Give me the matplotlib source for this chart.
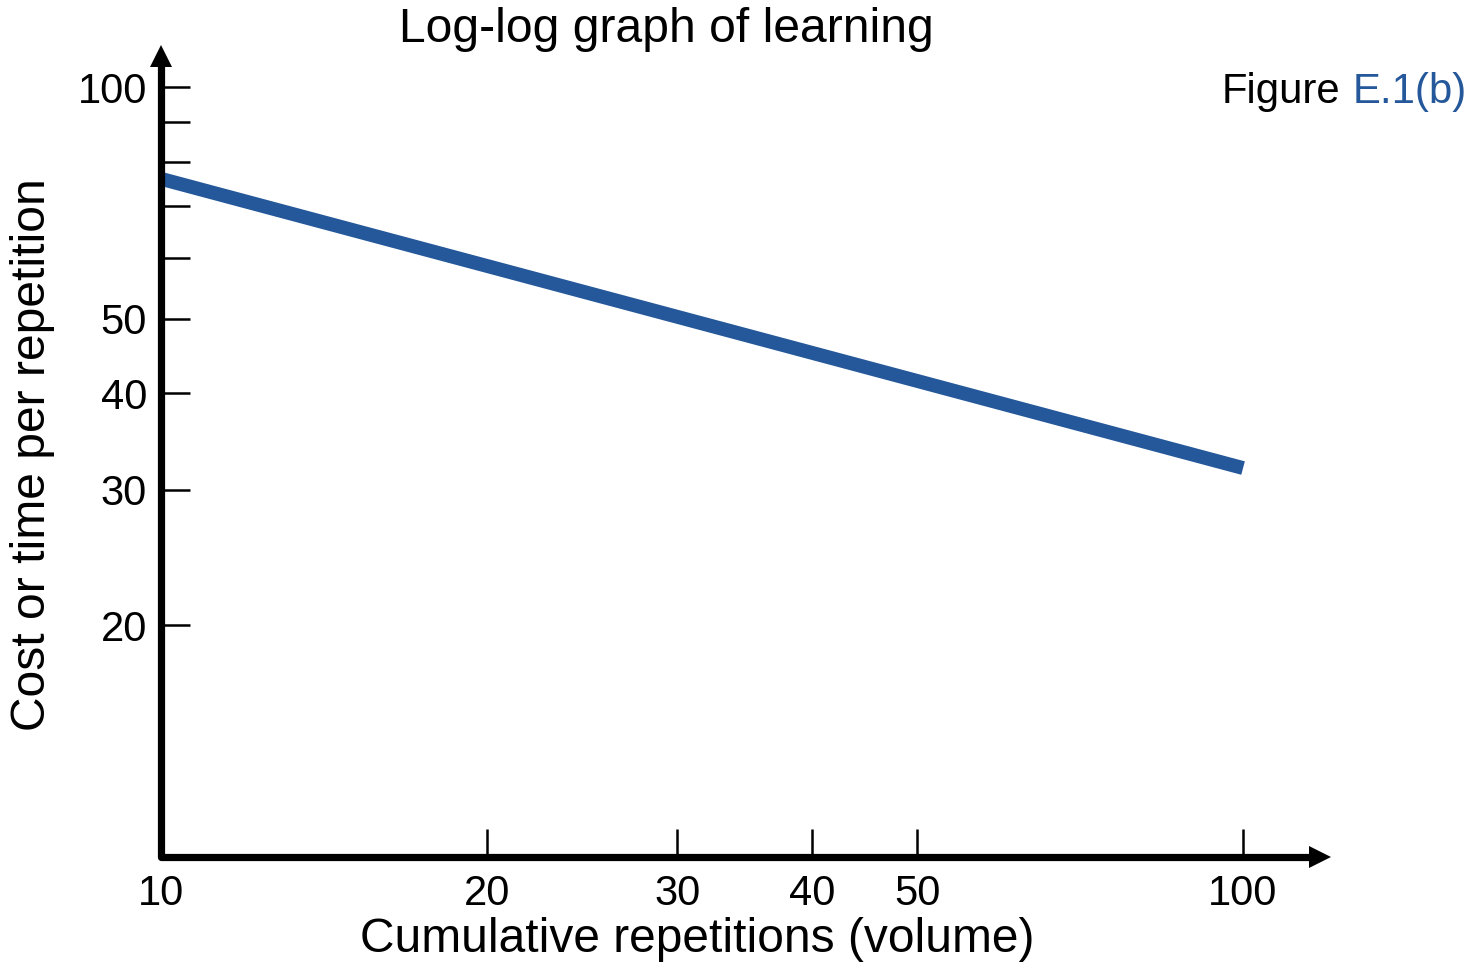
import matplotlib
matplotlib.use("Agg")
import matplotlib.pyplot as plt
from matplotlib.ticker import FixedLocator, FixedFormatter, NullFormatter
from matplotlib.transforms import ScaledTranslation

plt.rcParams['font.family'] = ['Liberation Sans', 'DejaVu Sans']

# Learning curve endpoints (cumulative repetitions vs cost per repetition)
volume = [10, 100]
cost = [76, 32]

x_ticks = [10, 20, 30, 40, 50, 100]
x_tick_labels = ['10', '20', '30', '40', '50', '100']
y_ticks = [20, 30, 40, 50, 100]
y_tick_labels = ['20', '30', '40', '50', '100']
y_minor_ticks = [60, 70, 80, 90]

BLUE = '#25589a'

fig = plt.figure(figsize=(14.78, 9.65), dpi=100)
ax = fig.add_axes([0.1089, 0.1119, 0.7917, 0.8415])
ax.set_xscale('log')
ax.set_yscale('log')
ax.set_xlim(10, 120.6)
ax.set_ylim(10, 113.4)

ax.plot(volume, cost, color=BLUE, lw=10, solid_capstyle='butt', zorder=2)

for s in ax.spines.values():
    s.set_visible(False)

# Axis lines with arrowheads
tip = 11 / 100  # inches from end to marker centre
ax.plot([0, 0, 0.985], [0.985, 0, 0], transform=ax.transAxes, color='black',
        lw=5.2, solid_joinstyle='round', solid_capstyle='butt', clip_on=False, zorder=3)
ax.plot([1], [0], marker='>', ms=16.5, mew=0, color='black', clip_on=False, zorder=3,
        transform=ax.transAxes + ScaledTranslation(-tip, 0, fig.dpi_scale_trans))
ax.plot([0], [1], marker='^', ms=16.5, mew=0, color='black', clip_on=False, zorder=3,
        transform=ax.transAxes + ScaledTranslation(0, -tip, fig.dpi_scale_trans))

ax.xaxis.set_major_locator(FixedLocator(x_ticks))
ax.xaxis.set_major_formatter(FixedFormatter(x_tick_labels))
ax.xaxis.set_minor_locator(FixedLocator([]))
ax.yaxis.set_major_locator(FixedLocator(y_ticks))
ax.yaxis.set_major_formatter(FixedFormatter(y_tick_labels))
ax.yaxis.set_minor_locator(FixedLocator(y_minor_ticks))
ax.yaxis.set_minor_formatter(NullFormatter())

ax.tick_params(axis='x', which='major', direction='in', length=20, width=1.8,
               pad=12, labelsize=30, colors='black')
ax.tick_params(axis='y', which='both', direction='in', length=21, width=1.8,
               pad=10, labelsize=30, colors='black')

fig.text(666 / 1478, 1 - 30 / 965, 'Log-log graph of learning', ha='center', va='center',
         fontsize=34.6)
fig.text(697 / 1478, 1 - 940 / 965, 'Cumulative repetitions (volume)', ha='center',
         va='center', fontsize=34.5)
fig.text(33 / 1478, 1 - 455 / 965, 'Cost or time per repetition', ha='center',
         va='center', rotation=90, fontsize=34.6)
fig.text(1222 / 1478, 1 - 92 / 965, 'Figure', ha='left', va='center', fontsize=30.2)
fig.text(1467 / 1478, 1 - 92 / 965, 'E.1(b)', ha='right', va='center', fontsize=30.2,
         color=BLUE)

fig.savefig('out.png', dpi=100)
